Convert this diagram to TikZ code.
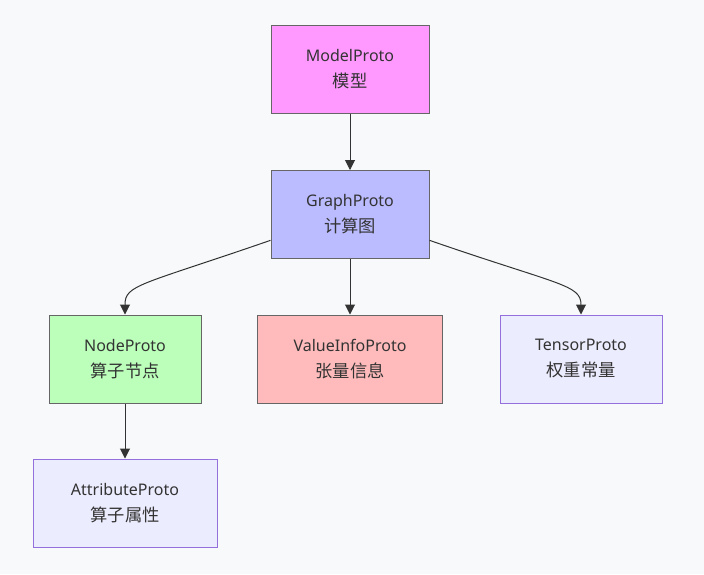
\documentclass[tikz,border=0pt]{standalone}
\usepackage{fontspec}
\setmainfont{Noto Sans}
\newfontfamily\cjk{Noto Sans CJK SC}[Scale=1.08]
\usetikzlibrary{arrows.meta}
\definecolor{bgcol}{HTML}{F8F9FA}
\definecolor{txtcol}{HTML}{333333}
\definecolor{edgecol}{HTML}{333333}
\definecolor{boxline}{HTML}{666666}
\definecolor{lilac}{HTML}{ECECFF}
\definecolor{lilacline}{HTML}{9370DB}
\definecolor{pink}{HTML}{FF99FF}
\definecolor{blueish}{HTML}{BBBBFF}
\definecolor{greenish}{HTML}{BBFFBB}
\definecolor{reddish}{HTML}{FFBBBB}
\tikzset{
  proto/.style={draw=boxline, line width=1pt, minimum height=88pt, align=center,
    text=txtcol, font=\fontsize{16pt}{26pt}\selectfont},
  plain/.style={proto, draw=lilacline, fill=lilac},
  link/.style={draw=edgecol, line width=1pt, -{Triangle[length=10pt,width=10pt]}}
}
\begin{document}
\begin{tikzpicture}[x=1pt,y=-1pt]
\useasboundingbox[fill=bgcol] (0,0) rectangle (704,574);
% the proto messages
\node[proto, fill=pink, minimum width=158pt] (model) at (350,69.5) {ModelProto\\{\cjk 模型}};
\node[proto, fill=blueish, minimum width=158pt] (graph) at (350,214.5) {GraphProto\\{\cjk 计算图}};
\node[proto, fill=greenish, minimum width=152pt] (nodep) at (125,359) {NodeProto\\{\cjk 算子节点}};
\node[proto, fill=reddish, minimum width=185pt] (value) at (350,359) {ValueInfoProto\\{\cjk 张量信息}};
\node[plain, minimum width=162pt] (tensor) at (581,359) {TensorProto\\{\cjk 权重常量}};
\node[plain, minimum width=184pt] (attr) at (125,503) {AttributeProto\\{\cjk 算子属性}};
% edges
\draw[link] (model) -- (graph);
\draw[link] (graph.198) .. controls +(-130,45) and +(0,-30) .. (nodep.north);
\draw[link] (graph) -- (value);
\draw[link] (graph.-18) .. controls +(130,45) and +(0,-30) .. (tensor.north);
\draw[link] (nodep) -- (attr);
\end{tikzpicture}
\end{document}
